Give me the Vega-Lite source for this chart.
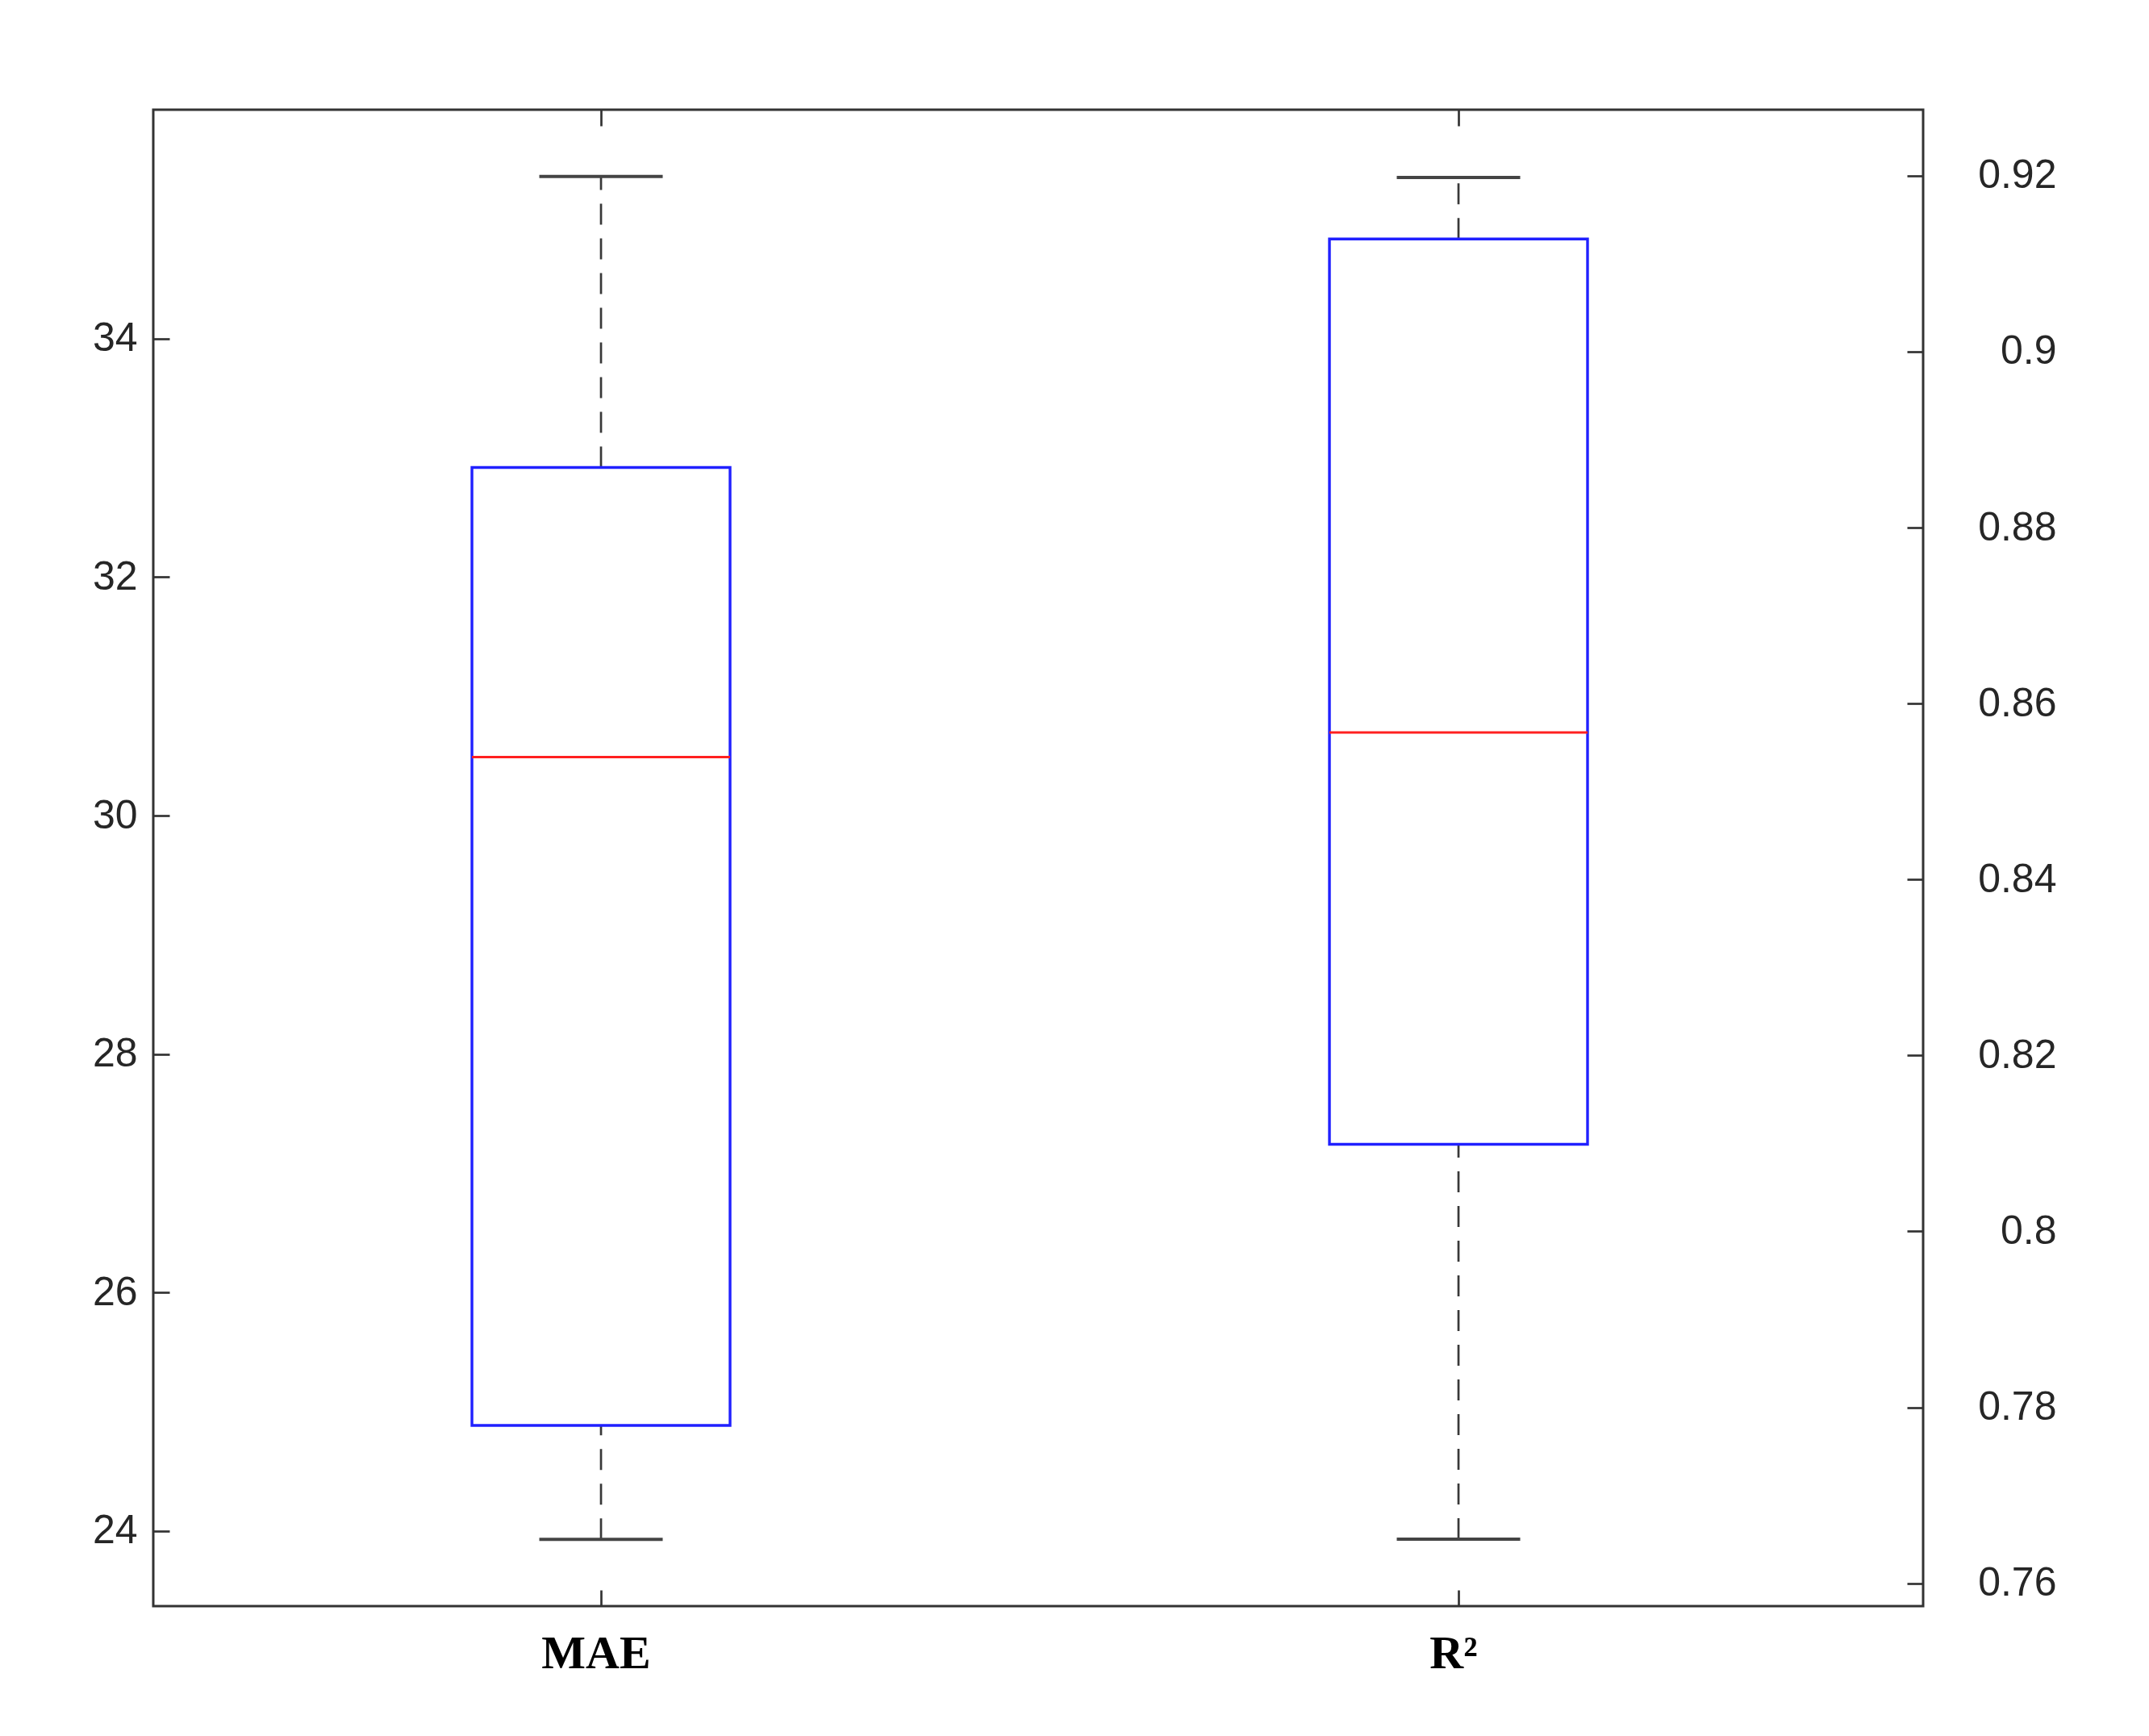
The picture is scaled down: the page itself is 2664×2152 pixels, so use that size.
{
  "$schema": "https://vega.github.io/schema/vega-lite/v6.json",
  "width": 2194,
  "height": 1855,
  "autosize": {"type": "none"},
  "padding": {"left": 190, "top": 136, "right": 280, "bottom": 161},
  "background": "white",
  "config": {
    "view": {"stroke": "#333333", "strokeWidth": 3}
  },
  "data": {
    "values": [
      {"metric": "MAE", "lower": 23.93, "q1": 24.885, "median": 30.49, "q3": 32.92, "upper": 35.36},
      {"metric": "R²", "lower": 0.765, "q1": 0.8099, "median": 0.8567, "q3": 0.9128, "upper": 0.9198}
    ]
  },
  "layer": [
    {
      "transform": [{"filter": "datum.metric === 'MAE'"}],
      "encoding": {
        "x": {
          "field": "metric", "type": "nominal", "sort": null,
          "scale": {"type": "band", "domain": ["MAE", "R²"], "paddingInner": 0, "paddingOuter": 0.032, "align": 0.346},
          "axis": {
            "orient": "bottom", "title": null, "domain": false, "grid": false,
            "tickSize": -20, "tickWidth": 2.7, "tickColor": "#333333",
            "labelAngle": 0, "labelFont": "Liberation Serif", "labelFontWeight": "bold",
            "labelFontSize": 58, "labelColor": "#000000", "labelPadding": 50, "labelOffset": -6
          }
        }
      },
      "layer": [
        {
          "mark": {"type": "rule", "stroke": "#383838", "strokeWidth": 2.7, "strokeDash": [26, 17]},
          "encoding": {
            "y": {"field": "q3", "type": "quantitative", "scale": {"domain": [23.37, 35.92], "nice": false, "zero": false},
              "axis": {"orient": "left", "title": null, "domain": false, "grid": false, "values": [24, 26, 28, 30, 32, 34], "format": "d", "tickSize": -20, "tickWidth": 2.7, "tickColor": "#333333", "labelFont": "Liberation Sans", "labelFontSize": 50, "labelColor": "#262626", "labelPadding": 40}},
            "y2": {"field": "upper"}
          }
        },
        {
          "mark": {"type": "rule", "stroke": "#383838", "strokeWidth": 2.7, "strokeDash": [26, 17]},
          "encoding": {
            "y": {"field": "lower", "type": "quantitative", "scale": {"domain": [23.37, 35.92], "nice": false, "zero": false},
              "axis": {"orient": "left", "title": null, "domain": false, "grid": false, "values": [24, 26, 28, 30, 32, 34], "format": "d", "tickSize": -20, "tickWidth": 2.7, "tickColor": "#333333", "labelFont": "Liberation Sans", "labelFontSize": 50, "labelColor": "#262626", "labelPadding": 40}},
            "y2": {"field": "q1"}
          }
        },
        {
          "mark": {"type": "tick", "orient": "horizontal", "color": "#444444", "size": 153, "thickness": 4, "opacity": 1},
          "encoding": {
            "y": {"field": "upper", "type": "quantitative", "scale": {"domain": [23.37, 35.92], "nice": false, "zero": false},
              "axis": {"orient": "left", "title": null, "domain": false, "grid": false, "values": [24, 26, 28, 30, 32, 34], "format": "d", "tickSize": -20, "tickWidth": 2.7, "tickColor": "#333333", "labelFont": "Liberation Sans", "labelFontSize": 50, "labelColor": "#262626", "labelPadding": 40}}
          }
        },
        {
          "mark": {"type": "tick", "orient": "horizontal", "color": "#444444", "size": 153, "thickness": 4, "opacity": 1},
          "encoding": {
            "y": {"field": "lower", "type": "quantitative", "scale": {"domain": [23.37, 35.92], "nice": false, "zero": false},
              "axis": {"orient": "left", "title": null, "domain": false, "grid": false, "values": [24, 26, 28, 30, 32, 34], "format": "d", "tickSize": -20, "tickWidth": 2.7, "tickColor": "#333333", "labelFont": "Liberation Sans", "labelFontSize": 50, "labelColor": "#262626", "labelPadding": 40}}
          }
        },
        {
          "mark": {"type": "bar", "fill": "transparent", "stroke": "#2020ff", "strokeWidth": 3.4, "width": {"band": 0.301}},
          "encoding": {
            "y": {"field": "q1", "type": "quantitative", "scale": {"domain": [23.37, 35.92], "nice": false, "zero": false},
              "axis": {"orient": "left", "title": null, "domain": false, "grid": false, "values": [24, 26, 28, 30, 32, 34], "format": "d", "tickSize": -20, "tickWidth": 2.7, "tickColor": "#333333", "labelFont": "Liberation Sans", "labelFontSize": 50, "labelColor": "#262626", "labelPadding": 40}},
            "y2": {"field": "q3"}
          }
        },
        {
          "mark": {"type": "tick", "orient": "horizontal", "color": "#ff2020", "size": 320, "thickness": 3, "opacity": 1},
          "encoding": {
            "y": {"field": "median", "type": "quantitative", "scale": {"domain": [23.37, 35.92], "nice": false, "zero": false},
              "axis": {"orient": "left", "title": null, "domain": false, "grid": false, "values": [24, 26, 28, 30, 32, 34], "format": "d", "tickSize": -20, "tickWidth": 2.7, "tickColor": "#333333", "labelFont": "Liberation Sans", "labelFontSize": 50, "labelColor": "#262626", "labelPadding": 40}}
          }
        }
      ]
    },
    {
      "transform": [{"filter": "datum.metric === 'R²'"}],
      "encoding": {
        "x": {
          "field": "metric", "type": "nominal", "sort": null,
          "scale": {"type": "band", "domain": ["MAE", "R²"], "paddingInner": 0, "paddingOuter": 0.032, "align": 0.346},
          "axis": {
            "orient": "top", "title": null, "domain": false, "grid": false, "labels": false,
            "tickSize": -20, "tickWidth": 2.7, "tickColor": "#333333"
          }
        }
      },
      "layer": [
        {
          "mark": {"type": "rule", "stroke": "#383838", "strokeWidth": 2.7, "strokeDash": [26, 17]},
          "encoding": {
            "y": {"field": "q3", "type": "quantitative", "scale": {"domain": [0.7574, 0.9275], "nice": false, "zero": false},
              "axis": {"orient": "right", "title": null, "domain": false, "grid": false, "values": [0.76, 0.78, 0.8, 0.82, 0.84, 0.86, 0.88, 0.9, 0.92], "format": ".2~f", "tickSize": -20, "tickWidth": 2.7, "tickColor": "#333333", "labelFont": "Liberation Sans", "labelFontSize": 50, "labelColor": "#262626", "labelAlign": "right", "labelPadding": 185}},
            "y2": {"field": "upper"}
          }
        },
        {
          "mark": {"type": "rule", "stroke": "#383838", "strokeWidth": 2.7, "strokeDash": [26, 17]},
          "encoding": {
            "y": {"field": "lower", "type": "quantitative", "scale": {"domain": [0.7574, 0.9275], "nice": false, "zero": false},
              "axis": {"orient": "right", "title": null, "domain": false, "grid": false, "values": [0.76, 0.78, 0.8, 0.82, 0.84, 0.86, 0.88, 0.9, 0.92], "format": ".2~f", "tickSize": -20, "tickWidth": 2.7, "tickColor": "#333333", "labelFont": "Liberation Sans", "labelFontSize": 50, "labelColor": "#262626", "labelAlign": "right", "labelPadding": 185}},
            "y2": {"field": "q1"}
          }
        },
        {
          "mark": {"type": "tick", "orient": "horizontal", "color": "#444444", "size": 153, "thickness": 4, "opacity": 1},
          "encoding": {
            "y": {"field": "upper", "type": "quantitative", "scale": {"domain": [0.7574, 0.9275], "nice": false, "zero": false},
              "axis": {"orient": "right", "title": null, "domain": false, "grid": false, "values": [0.76, 0.78, 0.8, 0.82, 0.84, 0.86, 0.88, 0.9, 0.92], "format": ".2~f", "tickSize": -20, "tickWidth": 2.7, "tickColor": "#333333", "labelFont": "Liberation Sans", "labelFontSize": 50, "labelColor": "#262626", "labelAlign": "right", "labelPadding": 185}}
          }
        },
        {
          "mark": {"type": "tick", "orient": "horizontal", "color": "#444444", "size": 153, "thickness": 4, "opacity": 1},
          "encoding": {
            "y": {"field": "lower", "type": "quantitative", "scale": {"domain": [0.7574, 0.9275], "nice": false, "zero": false},
              "axis": {"orient": "right", "title": null, "domain": false, "grid": false, "values": [0.76, 0.78, 0.8, 0.82, 0.84, 0.86, 0.88, 0.9, 0.92], "format": ".2~f", "tickSize": -20, "tickWidth": 2.7, "tickColor": "#333333", "labelFont": "Liberation Sans", "labelFontSize": 50, "labelColor": "#262626", "labelAlign": "right", "labelPadding": 185}}
          }
        },
        {
          "mark": {"type": "bar", "fill": "transparent", "stroke": "#2020ff", "strokeWidth": 3.4, "width": {"band": 0.301}},
          "encoding": {
            "y": {"field": "q1", "type": "quantitative", "scale": {"domain": [0.7574, 0.9275], "nice": false, "zero": false},
              "axis": {"orient": "right", "title": null, "domain": false, "grid": false, "values": [0.76, 0.78, 0.8, 0.82, 0.84, 0.86, 0.88, 0.9, 0.92], "format": ".2~f", "tickSize": -20, "tickWidth": 2.7, "tickColor": "#333333", "labelFont": "Liberation Sans", "labelFontSize": 50, "labelColor": "#262626", "labelAlign": "right", "labelPadding": 185}},
            "y2": {"field": "q3"}
          }
        },
        {
          "mark": {"type": "tick", "orient": "horizontal", "color": "#ff2020", "size": 320, "thickness": 3, "opacity": 1},
          "encoding": {
            "y": {"field": "median", "type": "quantitative", "scale": {"domain": [0.7574, 0.9275], "nice": false, "zero": false},
              "axis": {"orient": "right", "title": null, "domain": false, "grid": false, "values": [0.76, 0.78, 0.8, 0.82, 0.84, 0.86, 0.88, 0.9, 0.92], "format": ".2~f", "tickSize": -20, "tickWidth": 2.7, "tickColor": "#333333", "labelFont": "Liberation Sans", "labelFontSize": 50, "labelColor": "#262626", "labelAlign": "right", "labelPadding": 185}}
          }
        }
      ]
    }
  ],
  "resolve": {"scale": {"y": "independent"}, "axis": {"y": "independent", "x": "independent"}}
}
